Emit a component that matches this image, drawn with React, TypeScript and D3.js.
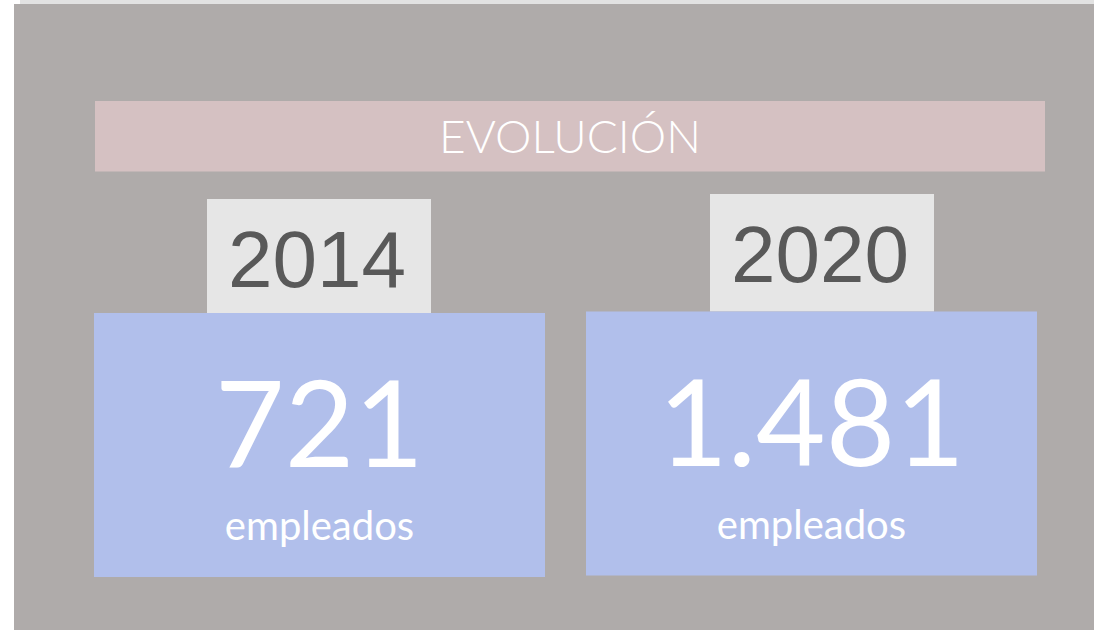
import React from "react";
import * as d3 from "d3";

const title = "EVOLUCIÓN";
const years = ["2014", "2020"];
const values = [721, 1481];
const unitLabel = "empleados";

const W = 1094;
const H = 630;

const fmt = d3.formatLocale({ decimal: ",", thousands: ".", grouping: [3], currency: ["", " €"] }).format(",d");

export default function App() {
  const x = d3.scaleBand<string>().domain(years).range([94, 1037]).paddingInner(0.0833).paddingOuter(0);
  const bw = x.bandwidth();
  // small per-card vertical offsets observed in the original slide
  const cardDy = [0, -1.5];
  const yearDy = [0, -5];
  const yearDx = [113, 124];
  const fontCal = "Lato, 'Open Sans', sans-serif";
  return (
    <svg width={W} height={H} style={{ position: "absolute", left: 0, top: 0, display: "block" }}>
      <rect x={20} y={0} width={W - 20} height={4} fill="#e2e2e2" />
      <rect x={14} y={4} width={W - 14} height={H - 4} fill="#afabaa" />
      <rect x={95} y={101} width={950} height={70.5} fill="#d5c1c2" />
      <text x={570} y={153} textAnchor="middle" fill="#ffffff" fontFamily={fontCal} fontWeight={300} fontSize={46}>
        {title}
      </text>
      {years.map((yr, i) => {
        const x0 = x(yr)!;
        const cy = 313 + cardDy[i];
        const yb = 199 + yearDy[i];
        const yx = x0 + yearDx[i];
        return (
          <g key={yr}>
            <rect x={yx} y={yb} width={224} height={cy - yb} fill="#e6e6e6" />
            <text x={yx + 110} y={yb + 88} textAnchor="middle" fill="#595959" fontFamily="'Liberation Sans', Arial, sans-serif" fontSize={80}>
              {yr}
            </text>
            <rect x={x0} y={cy} width={bw} height={264} fill="#b1bfeb" />
            <text x={x0 + bw / 2} y={cy + 154} textAnchor="middle" fill="#ffffff" fontFamily={fontCal} fontSize={120}>
              {fmt(values[i])}
            </text>
            <text x={x0 + bw / 2} y={cy + 227} textAnchor="middle" fill="#ffffff" fontFamily={fontCal} fontSize={40}>
              {unitLabel}
            </text>
          </g>
        );
      })}
    </svg>
  );
}
